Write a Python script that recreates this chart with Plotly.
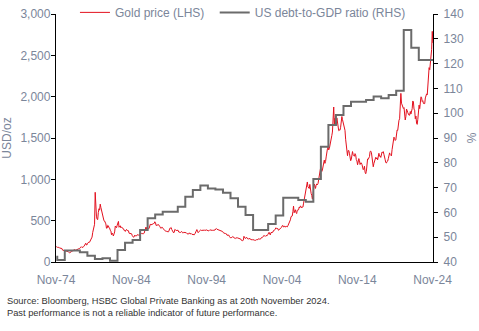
import pandas as pd
import plotly.graph_objects as go

# Gold price, USD/oz, monthly (Nov 1974 - Nov 2024)
gold_1970s = [182, 186,
              176, 180, 178, 170, 167, 164, 165, 163, 144, 143, 142, 139,
              131, 131, 133, 128, 127, 126, 118, 110, 115, 117, 131, 134,
              132, 136, 148, 149, 147, 141, 143, 145, 150, 158, 162, 161,
              173, 178, 184, 175, 176, 183, 188, 206, 212, 227, 206, 208,
              227, 245, 242, 239, 257, 279, 295, 301, 356, 392, 392, 456]
gold_1980s = [843, 640, 554, 517, 513, 600, 644, 627, 700, 661, 623, 596,
              557, 500, 499, 496, 480, 461, 409, 410, 444, 437, 413, 410,
              384, 374, 330, 350, 334, 315, 339, 364, 435, 422, 415, 444,
              481, 491, 420, 432, 438, 413, 422, 416, 412, 394, 382, 388,
              370, 386, 394, 381, 377, 378, 348, 348, 341, 340, 341, 320,
              303, 299, 304, 325, 316, 317, 317, 330, 324, 326, 325, 322,
              345, 339, 346, 340, 342, 343, 348, 376, 418, 423, 396, 391,
              408, 401, 409, 438, 460, 450, 451, 461, 460, 465, 467, 487,
              477, 442, 443, 451, 451, 452, 437, 431, 413, 406, 420, 419,
              404, 388, 390, 385, 371, 367, 375, 365, 362, 367, 394, 409]
gold_1990s = [410, 417, 393, 374, 369, 352, 362, 395, 389, 381, 381, 378,
              384, 363, 363, 358, 357, 367, 368, 356, 349, 359, 360, 361,
              354, 354, 345, 338, 337, 341, 353, 340, 345, 344, 335, 334,
              329, 330, 330, 342, 367, 372, 392, 378, 355, 365, 374, 383,
              387, 382, 384, 378, 381, 385, 385, 381, 391, 389, 384, 379,
              379, 377, 382, 391, 385, 387, 386, 383, 383, 383, 386, 387,
              400, 405, 396, 393, 392, 385, 383, 387, 383, 381, 378, 369,
              355, 347, 352, 344, 344, 341, 324, 324, 323, 325, 306, 289,
              289, 297, 296, 308, 299, 292, 293, 284, 289, 296, 294, 291,
              287, 287, 286, 282, 277, 262, 256, 257, 265, 311, 293, 283]
gold_2000s = [285, 300, 286, 280, 275, 286, 282, 274, 273, 270, 266, 272,
              266, 262, 263, 261, 272, 270, 268, 273, 283, 283, 276, 276,
              282, 296, 294, 302, 314, 322, 314, 310, 319, 317, 319, 333,
              356, 359, 340, 328, 355, 356, 351, 360, 379, 379, 389, 407,
              414, 405, 406, 404, 384, 392, 398, 400, 406, 420, 439, 442,
              424, 424, 434, 429, 422, 431, 425, 438, 457, 470, 476, 510,
              549, 555, 557, 610, 676, 596, 633, 632, 598, 586, 627, 629,
              631, 665, 655, 679, 667, 655, 665, 665, 712, 754, 806, 803,
              889, 922, 968, 909, 888, 889, 939, 839, 829, 806, 760, 816,
              858, 943, 924, 890, 928, 945, 934, 949, 996, 1043, 1127, 1134]
gold_2010s = [1118, 1095, 1113, 1148, 1205, 1232, 1193, 1215, 1271, 1343, 1370, 1391,
              1356, 1372, 1424, 1473, 1510, 1529, 1572, 1820, 1875, 1665, 1739, 1652,
              1656, 1743, 1675, 1649, 1589, 1596, 1594, 1630, 1744, 1760, 1721, 1688,
              1671, 1627, 1593, 1485, 1414, 1343, 1286, 1347, 1349, 1316, 1275, 1225,
              1244, 1300, 1336, 1299, 1287, 1279, 1311, 1296, 1239, 1222, 1176, 1201,
              1251, 1227, 1179, 1198, 1199, 1181, 1128, 1117, 1125, 1159, 1086, 1068,
              1097, 1200, 1246, 1242, 1260, 1276, 1337, 1341, 1326, 1267, 1238, 1152,
              1192, 1234, 1231, 1266, 1246, 1260, 1236, 1283, 1315, 1280, 1283, 1265,
              1331, 1331, 1325, 1335, 1303, 1282, 1238, 1202, 1198, 1215, 1221, 1250,
              1291, 1320, 1300, 1286, 1284, 1359, 1413, 1500, 1510, 1494, 1470, 1479]
gold_2020s = [1560, 1597, 1592, 1683, 1715, 1732, 1847, 2040, 1921, 1901, 1866, 1858,
              1867, 1808, 1718, 1760, 1850, 1834, 1807, 1785, 1775, 1777, 1821, 1790,
              1817, 1856, 1948, 1937, 1849, 1837, 1733, 1765, 1681, 1665, 1726, 1798,
              1898, 1855, 1912, 1999, 1992, 1942, 1951, 1918, 1916, 1916, 1985, 2030,
              2034, 2023, 2158, 2331, 2351, 2326, 2398, 2470, 2571, 2790, 2650]

# US debt-to-GDP ratio, %, one value per calendar year
debt_start = 42.1
debt_years = list(range(1975, 2025))
debt_pct = [40.8, 44.6, 44.6, 43.9, 42.5, 41.2, 41.5, 40.5, 44.8, 47.8,
            48.9, 52.9, 57.6, 59.2, 60.3, 60.3, 62.3, 66.3, 69.0, 70.8,
            69.6, 69.2, 67.9, 65.7, 62.3, 59.0, 52.9, 52.9, 55.3, 58.7,
            65.9, 65.9, 65.0, 64.3, 73.5, 86.5, 95.2, 99.3, 102.9, 104.6,
            104.6, 105.3, 106.7, 106.0, 107.3, 109.1, 133.5, 126.4, 121.5, 121.5]

x_tick_vals = ["1974-11-01", "1984-11-01", "1994-11-01", "2004-11-01", "2014-11-01", "2024-11-01"]
x_tick_text = ["Nov-74", "Nov-84", "Nov-94", "Nov-04", "Nov-14", "Nov-24"]

gold_usd = gold_1970s + gold_1980s + gold_1990s + gold_2000s + gold_2010s + gold_2020s
gold_dates = pd.date_range("1974-11-01", periods=len(gold_usd), freq="MS") + pd.Timedelta(days=14)

debt_dates = ["1974-11-15"] + [f"{y}-01-01" for y in debt_years] + ["2024-11-20"]
debt_vals = [debt_start] + debt_pct + [debt_pct[-1]]

FONT = "Arial, Liberation Sans, sans-serif"
LABEL = "#7b869a"

fig = go.Figure()
fig.add_trace(go.Scatter(
    x=gold_dates, y=gold_usd, name="Gold price (LHS)", mode="lines",
    line=dict(color="#e3101e", width=1), yaxis="y", legend="legend"))
fig.add_trace(go.Scatter(
    x=debt_dates, y=debt_vals, name="US debt-to-GDP ratio (RHS)", mode="lines",
    line=dict(color="#6b6b6b", width=2, shape="hv"), yaxis="y2", legend="legend2"))

legend_common = dict(orientation="h", yanchor="top", y=1.065, xanchor="left",
                     font=dict(size=12, color=LABEL), bgcolor="rgba(0,0,0,0)",
                     borderwidth=0)

fig.update_layout(
    width=479, height=331,
    margin=dict(l=56, r=46, t=14, b=69, autoexpand=False),
    paper_bgcolor="white", plot_bgcolor="white",
    font=dict(family=FONT, size=12, color=LABEL),
    showlegend=True,
    legend=dict(x=0.0503, **legend_common),
    legend2=dict(x=0.421, **legend_common),
    xaxis=dict(type="date", range=["1974-11-01", "2024-11-20"],
               tickmode="array", tickvals=x_tick_vals, ticktext=x_tick_text,
               showgrid=False, zeroline=False, showline=True, linecolor="black",
               linewidth=1.3, ticks="", ticklabelstandoff=6,
               tickfont=dict(size=12, color=LABEL)),
    yaxis=dict(range=[0, 3000], dtick=500, tickformat=",", showgrid=False,
               zeroline=False, showline=True, linecolor="black", linewidth=1.3,
               ticks="outside", ticklen=4, tickcolor="black", tickwidth=1,
               ticklabelstandoff=-2, tickfont=dict(size=12, color=LABEL),
               title=dict(text="USD/oz", font=dict(size=12, color=LABEL), standoff=6)),
    yaxis2=dict(range=[40, 140], dtick=10, overlaying="y", side="right",
                showgrid=False, zeroline=False, showline=True, linecolor="black",
                linewidth=1.3, ticks="outside", ticklen=4, tickcolor="black",
                tickwidth=1, ticklabelstandoff=3, tickfont=dict(size=12, color=LABEL),
                title=dict(text="%", font=dict(size=12, color=LABEL), standoff=4)),
)

fig.add_annotation(
    text="Source: Bloomberg, HSBC Global Private Banking as at 20th November 2024.<br>"
         "Past performance is not a reliable indicator of future performance.",
    xref="paper", yref="paper", x=-0.135, y=-0.13, xanchor="left", yanchor="top",
    align="left", showarrow=False,
    font=dict(family=FONT, size=9.3, color="#333333"))

fig.write_html("out.html")
